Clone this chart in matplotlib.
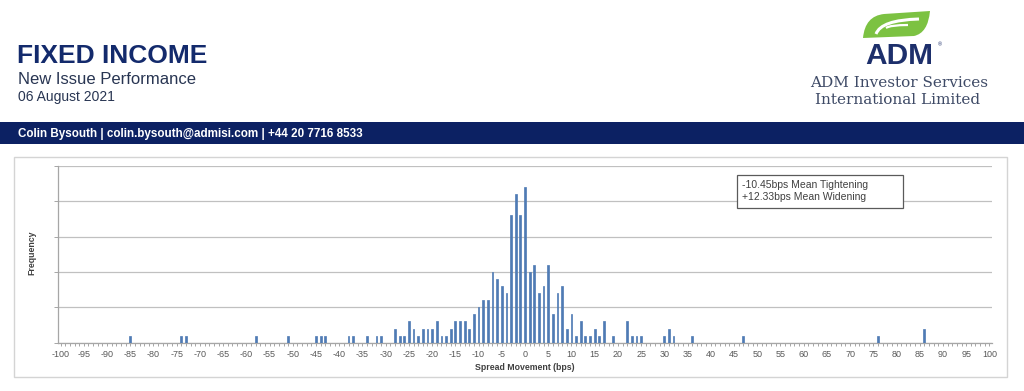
import matplotlib
matplotlib.use('Agg')
import matplotlib.pyplot as plt
from matplotlib.patches import Rectangle, PathPatch
from matplotlib.path import Path

plt.rcParams['font.family'] = ['Liberation Sans', 'DejaVu Sans']

# ========================== DATA ==========================
spread_bps = [-85, -74, -73, -58, -51, -45, -44, -43, -38, -37, -34, -32, -31,
              -28, -27, -26, -25, -24, -23, -22, -21, -20, -19, -18, -17, -16,
              -15, -14, -13, -12, -11, -10, -9, -8, -7, -6, -5, -4, -3, -2, -1,
              0, 1, 2, 3, 4, 5, 6, 7, 8, 9, 10, 11, 12, 13, 14, 15, 16, 17, 19,
              22, 23, 24, 25, 30, 31, 32, 36, 47, 76, 86]
frequency = [1, 1, 1, 1, 1, 1, 1, 1, 1, 1, 1, 1, 1,
             2, 1, 1, 3, 2, 1, 2, 2, 2, 3, 1, 1, 2,
             3, 3, 3, 2, 4, 5, 6, 6, 10, 9, 8, 7, 18, 21, 18,
             22, 10, 11, 7, 8, 11, 4, 7, 8, 2, 4, 1, 3, 1, 1, 2, 1, 3, 1,
             3, 1, 1, 1, 1, 2, 1, 1, 1, 1, 2]
x_ticks = list(range(-100, 101, 5))
y_grid = list(range(0, 26, 5))
note_lines = ['-10.45bps Mean Tightening', '+12.33bps Mean Widening']

navy = '#0c2163'
bar_blue = '#4f7bb4'

# ========================== FIGURE ==========================
fig = plt.figure(figsize=(10.24, 3.91), dpi=100)

# main histogram axes (pixel box 58..992 x 166..343)
ax = fig.add_axes([58.3 / 1024, 48.3 / 391, 933.4 / 1024, 176.7 / 391])
ax.bar(spread_bps, frequency, width=0.38, color=bar_blue, edgecolor=bar_blue,
       linewidth=0.5, zorder=3)
ax.set_xlim(-100.5, 100.5)
ax.set_ylim(0, 25)
ax.set_yticks(y_grid)
ax.set_yticklabels([])
ax.set_xticks(x_ticks)
ax.set_xticks(range(-100, 101), minor=True)
ax.set_xticklabels([str(v) for v in x_ticks])
ax.grid(axis='y', color='#c0c0c0', linewidth=0.9, zorder=0)
for s in ['top', 'right']:
    ax.spines[s].set_visible(False)
for s in ['left', 'bottom']:
    ax.spines[s].set_color('#a6a6a6')
    ax.spines[s].set_linewidth(0.9)
ax.tick_params(axis='x', which='both', length=2.5, width=0.7, color='#a6a6a6',
               labelsize=6.5, labelcolor='#595959', pad=3)
ax.tick_params(axis='y', length=3, width=0.7, color='#a6a6a6')

# overlay in pixel coordinates for header, frame and notes
ov = fig.add_axes([0, 0, 1, 1], facecolor='none')
ov.set_xlim(0, 1024)
ov.set_ylim(391, 0)
ov.axis('off')

# header text
ov.text(17, 63, 'FIXED INCOME', fontsize=19, fontweight='bold', color='#132a6c',
        va='baseline', ha='left')
ov.text(18, 84.5, 'New Issue Performance', fontsize=12, color='#283552',
        va='baseline', ha='left')
ov.text(18, 100.5, '06 August 2021', fontsize=10, color='#283552',
        va='baseline', ha='left')

# navy banner
ov.add_patch(Rectangle((0, 122), 1024, 22, color=navy, lw=0))
ov.text(18, 133.5, 'Colin Bysouth | colin.bysouth@admisi.com | +44 20 7716 8533',
        fontsize=8.4, fontweight='bold', color='white', va='center', ha='left')

# ADM logo: leaf
leaf = Path([(863, 38), (865, 16), (884, 14), (930, 11), (928, 33), (914, 36), (863, 38)],
            [Path.MOVETO, Path.CURVE3, Path.CURVE3, Path.LINETO, Path.CURVE3, Path.CURVE3,
             Path.CLOSEPOLY])
ov.add_patch(PathPatch(leaf, facecolor='#7cc242', edgecolor='none'))
swoosh = Path([(876, 34), (881, 20), (919, 19)], [Path.MOVETO, Path.CURVE3, Path.CURVE3])
ov.add_patch(PathPatch(swoosh, facecolor='none', edgecolor='white', lw=2.2))
swoosh2 = Path([(886, 28), (890, 25), (908, 25)], [Path.MOVETO, Path.CURVE3, Path.CURVE3])
ov.add_patch(PathPatch(swoosh2, facecolor='none', edgecolor='white', lw=1.6))
ov.text(899.5, 63.5, 'ADM', fontsize=21.5, fontweight='bold', color='#1d2f6b',
        va='baseline', ha='center')
ov.text(938, 45, '®', fontsize=4, color='#1d2f6b', va='center', ha='left')
ov.text(899, 83, 'ADM Investor Services', fontsize=11, color='#3e4a66',
        family='DejaVu Serif', va='center', ha='center')
ov.text(898, 99.5, 'International Limited', fontsize=11, color='#3e4a66',
        family='DejaVu Serif', va='center', ha='center')

# chart frame
ov.add_patch(Rectangle((14, 157), 993, 220, fill=False, ec='#d4d4d4', lw=1))

# axis titles
ov.text(524.5, 368, 'Spread Movement (bps)', fontsize=6.3, fontweight='bold',
        color='#404040', ha='center', va='center')
ov.text(32, 253, 'Frequency', fontsize=6.3, fontweight='bold', color='#404040',
        rotation=90, ha='center', va='center')

# note box
ov.add_patch(Rectangle((737, 174.5), 166, 33, facecolor='white', ec='#5a5a5a', lw=0.9))
for i, line in enumerate(note_lines):
    ov.text(742, 184.5 + i * 12, line, fontsize=7.5, color='#404040',
            ha='left', va='center')

fig.savefig('out.png', dpi=100)
